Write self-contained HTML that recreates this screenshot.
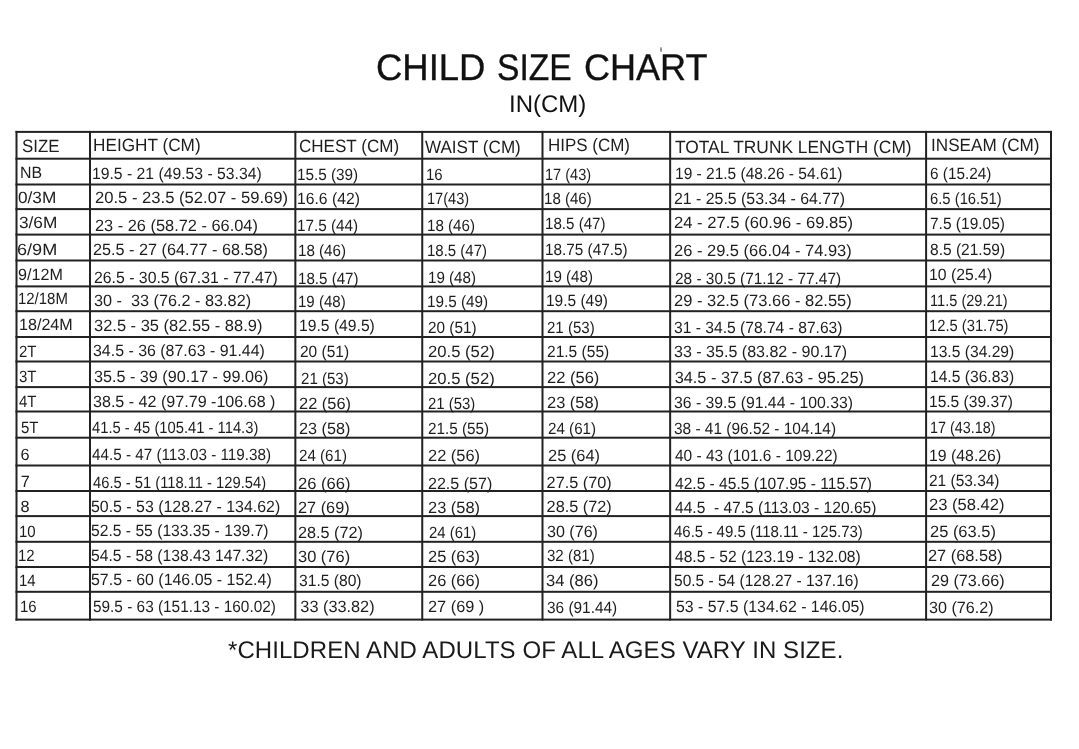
<!DOCTYPE html>
<html><head><meta charset="utf-8"><title>Child Size Chart</title>
<style>
html,body{margin:0;padding:0;background:#fff;}
body{width:1079px;height:749px;position:relative;overflow:hidden;font-family:"Liberation Sans",Arial,sans-serif;color:#1e1e1e;}
.l{position:absolute;background:#222;}
.t{position:absolute;white-space:pre;line-height:1;transform-origin:0 100%;text-rendering:geometricPrecision;}
#w{position:absolute;left:0;top:0;width:1079px;height:749px;will-change:transform;}
.d{font-size:16.3px;}
.h{font-size:17.8px;}
</style></head><body><div id="w">

<div class="t" style="left:376.21px;top:49.40px;font-size:37px;transform:scaleX(0.9852);color:#111;-webkit-text-stroke:0.35px #111;">CHILD</div>
<div class="t" style="left:497.09px;top:49.40px;font-size:37px;transform:scaleX(0.9086);color:#111;-webkit-text-stroke:0.35px #111;">SIZE</div>
<div class="t" style="left:584.13px;top:49.40px;font-size:37px;transform:scaleX(0.9739);color:#111;-webkit-text-stroke:0.35px #111;">CHART</div>
<div style="position:absolute;left:660.2px;top:47.3px;width:2.2px;height:4.4px;border-radius:50%;background:#7d6e60;opacity:.8"></div>
<div class="t" style="left:509.00px;top:92.60px;font-size:24px;color:#111;">IN(CM)</div>
<div class="t" style="left:228.00px;top:639.40px;font-size:24px;color:#1a1a1a;letter-spacing:0.07px;">*CHILDREN AND ADULTS OF ALL AGES VARY IN SIZE.</div>
<svg style="position:absolute;left:0;top:0" width="1079" height="749" viewBox="0 0 1079 749"><g fill="#222"><rect x="15.50" y="130.90" width="2.00" height="489.70"/><rect x="89.00" y="130.90" width="2.00" height="489.70"/><rect x="294.35" y="130.90" width="2.00" height="489.70"/><rect x="421.25" y="130.90" width="2.00" height="489.70"/><rect x="541.50" y="130.90" width="2.00" height="489.70"/><rect x="669.15" y="130.90" width="2.00" height="489.70"/><rect x="925.10" y="130.90" width="2.00" height="489.70"/><rect x="1050.00" y="130.90" width="2.00" height="489.70"/><rect x="15.50" y="130.90" width="1036.50" height="2.00"/><rect x="15.50" y="157.70" width="1036.50" height="2.00"/><rect x="15.50" y="183.50" width="1036.50" height="2.00"/><rect x="15.50" y="208.10" width="1036.50" height="2.00"/><rect x="15.50" y="233.60" width="1036.50" height="2.00"/><rect x="15.50" y="259.50" width="1036.50" height="2.00"/><rect x="15.50" y="285.40" width="1036.50" height="2.00"/><rect x="15.50" y="310.20" width="1036.50" height="2.00"/><rect x="15.50" y="336.00" width="1036.50" height="2.00"/><rect x="15.50" y="360.50" width="1036.50" height="2.00"/><rect x="15.50" y="386.10" width="1036.50" height="2.00"/><rect x="15.50" y="410.50" width="1036.50" height="2.00"/><rect x="15.50" y="436.70" width="1036.50" height="2.00"/><rect x="15.50" y="464.50" width="1036.50" height="2.00"/><rect x="15.50" y="490.00" width="1036.50" height="2.00"/><rect x="15.50" y="515.10" width="1036.50" height="2.00"/><rect x="15.50" y="540.80" width="1036.50" height="2.00"/><rect x="15.50" y="566.00" width="1036.50" height="2.00"/><rect x="15.50" y="590.80" width="1036.50" height="2.00"/><rect x="15.50" y="618.60" width="1036.50" height="2.00"/></g></svg>
<div class="t" style="left:22.22px;top:137.90px;font-size:17.8px;transform:scaleX(0.9475);">SIZE</div>
<div class="t" style="left:92.77px;top:137.40px;font-size:17.8px;transform:scaleX(0.9672);">HEIGHT (CM)</div>
<div class="t" style="left:298.81px;top:138.20px;font-size:17.8px;transform:scaleX(0.9587);">CHEST (CM)</div>
<div class="t" style="left:425.05px;top:138.70px;font-size:17.8px;transform:scaleX(0.9603);">WAIST (CM)</div>
<div class="t" style="left:547.50px;top:137.40px;font-size:17.8px;transform:scaleX(0.9542);">HIPS (CM)</div>
<div class="t" style="left:675.11px;top:139.40px;font-size:17.8px;transform:scaleX(0.9763);">TOTAL TRUNK LENGTH (CM)</div>
<div class="t" style="left:931.02px;top:137.40px;font-size:17.8px;transform:scaleX(0.9632);">INSEAM (CM)</div>
<div class="t" style="left:19.72px;top:165.20px;font-size:16.3px;transform:scaleX(0.9779);">NB</div>
<div class="t" style="left:92.36px;top:166.00px;font-size:16.3px;transform:scaleX(0.9663);">19.5 - 21 (49.53 - 53.34)</div>
<div class="t" style="left:296.97px;top:166.50px;font-size:16.3px;transform:scaleX(0.9390);">15.5 (39)</div>
<div class="t" style="left:426.02px;top:166.70px;font-size:16.3px;transform:scaleX(0.9200);">16</div>
<div class="t" style="left:544.67px;top:166.60px;font-size:16.3px;transform:scaleX(0.8945);">17 (43)</div>
<div class="t" style="left:675.23px;top:166.40px;font-size:16.3px;transform:scaleX(0.9529);">19 - 21.5 (48.26 - 54.61)</div>
<div class="t" style="left:929.63px;top:166.10px;font-size:16.3px;transform:scaleX(0.9436);">6 (15.24)</div>
<div class="t" style="left:18.25px;top:189.70px;font-size:16.3px;transform:scaleX(1.0567);">0/3M</div>
<div class="t" style="left:94.91px;top:190.00px;font-size:16.3px;transform:scaleX(1.0203);">20.5 - 23.5 (52.07 - 59.69)</div>
<div class="t" style="left:296.75px;top:191.00px;font-size:16.3px;transform:scaleX(0.9650);">16.6 (42)</div>
<div class="t" style="left:426.66px;top:191.00px;font-size:16.3px;transform:scaleX(0.8953);">17(43)</div>
<div class="t" style="left:544.42px;top:191.10px;font-size:16.3px;transform:scaleX(0.9255);">18 (46)</div>
<div class="t" style="left:674.47px;top:190.50px;font-size:16.3px;transform:scaleX(0.9746);">21 - 25.5 (53.34 - 64.77)</div>
<div class="t" style="left:929.83px;top:190.70px;font-size:16.3px;transform:scaleX(0.9094);">6.5 (16.51)</div>
<div class="t" style="left:18.53px;top:214.70px;font-size:16.3px;transform:scaleX(1.0586);">3/6M</div>
<div class="t" style="left:94.98px;top:218.20px;font-size:16.3px;transform:scaleX(1.0057);">23 - 26 (58.72 - 66.04)</div>
<div class="t" style="left:296.97px;top:217.90px;font-size:16.3px;transform:scaleX(0.9390);">17.5 (44)</div>
<div class="t" style="left:427.17px;top:218.10px;font-size:16.3px;transform:scaleX(0.9311);">18 (46)</div>
<div class="t" style="left:545.18px;top:215.70px;font-size:16.3px;transform:scaleX(0.9295);">18.5 (47)</div>
<div class="t" style="left:674.15px;top:215.30px;font-size:16.3px;transform:scaleX(1.0197);">24 - 27.5 (60.96 - 69.85)</div>
<div class="t" style="left:929.77px;top:215.70px;font-size:16.3px;transform:scaleX(0.9522);">7.5 (19.05)</div>
<div class="t" style="left:16.97px;top:242.40px;font-size:16.3px;transform:scaleX(1.1105);">6/9M</div>
<div class="t" style="left:93.27px;top:242.40px;font-size:16.3px;transform:scaleX(0.9967);">25.5 - 27 (64.77 - 68.58)</div>
<div class="t" style="left:297.65px;top:243.20px;font-size:16.3px;transform:scaleX(0.9311);">18 (46)</div>
<div class="t" style="left:427.36px;top:243.20px;font-size:16.3px;transform:scaleX(0.9204);">18.5 (47)</div>
<div class="t" style="left:545.11px;top:242.40px;font-size:16.3px;transform:scaleX(0.9400);">18.75 (47.5)</div>
<div class="t" style="left:674.20px;top:243.20px;font-size:16.3px;transform:scaleX(1.0120);">26 - 29.5 (66.04 - 74.93)</div>
<div class="t" style="left:930.10px;top:242.40px;font-size:16.3px;transform:scaleX(0.9533);">8.5 (21.59)</div>
<div class="t" style="left:18.44px;top:267.20px;font-size:16.3px;transform:scaleX(0.9904);">9/12M</div>
<div class="t" style="left:94.15px;top:270.00px;font-size:16.3px;transform:scaleX(0.9714);">26.5 - 30.5 (67.31 - 77.47)</div>
<div class="t" style="left:297.67px;top:270.70px;font-size:16.3px;transform:scaleX(0.9292);">18.5 (47)</div>
<div class="t" style="left:428.13px;top:270.00px;font-size:16.3px;transform:scaleX(0.9311);">19 (48)</div>
<div class="t" style="left:544.55px;top:269.10px;font-size:16.3px;transform:scaleX(0.9311);">19 (48)</div>
<div class="t" style="left:674.50px;top:270.90px;font-size:16.3px;transform:scaleX(0.9460);">28 - 30.5 (71.12 - 77.47)</div>
<div class="t" style="left:928.97px;top:267.00px;font-size:16.3px;transform:scaleX(0.9691);">10 (25.4)</div>
<div class="t" style="left:18.39px;top:291.10px;font-size:16.3px;transform:scaleX(0.9178);">12/18M</div>
<div class="t" style="left:93.67px;top:293.00px;font-size:16.3px;transform:scaleX(0.9975);">30 -  33 (76.2 - 83.82)</div>
<div class="t" style="left:298.44px;top:293.90px;font-size:16.3px;transform:scaleX(0.9243);">19 (48)</div>
<div class="t" style="left:427.45px;top:293.90px;font-size:16.3px;transform:scaleX(0.9390);">19.5 (49)</div>
<div class="t" style="left:546.11px;top:293.40px;font-size:16.3px;transform:scaleX(0.9516);">19.5 (49)</div>
<div class="t" style="left:674.20px;top:293.30px;font-size:16.3px;transform:scaleX(1.0120);">29 - 32.5 (73.66 - 82.55)</div>
<div class="t" style="left:930.31px;top:293.40px;font-size:16.3px;transform:scaleX(0.8964);">11.5 (29.21)</div>
<div class="t" style="left:18.70px;top:317.10px;font-size:16.3px;transform:scaleX(0.9895);">18/24M</div>
<div class="t" style="left:93.84px;top:318.30px;font-size:16.3px;transform:scaleX(1.0111);">32.5 - 35 (82.55 - 88.9)</div>
<div class="t" style="left:298.93px;top:318.40px;font-size:16.3px;transform:scaleX(0.9632);">19.5 (49.5)</div>
<div class="t" style="left:427.94px;top:320.30px;font-size:16.3px;transform:scaleX(0.9404);">20 (51)</div>
<div class="t" style="left:547.02px;top:320.10px;font-size:16.3px;transform:scaleX(0.9246);">21 (53)</div>
<div class="t" style="left:674.17px;top:320.30px;font-size:16.3px;transform:scaleX(0.9596);">31 - 34.5 (78.74 - 87.63)</div>
<div class="t" style="left:929.48px;top:318.00px;font-size:16.3px;transform:scaleX(0.9058);">12.5 (31.75)</div>
<div class="t" style="left:18.97px;top:343.60px;font-size:16.3px;transform:scaleX(0.9200);">2T</div>
<div class="t" style="left:93.08px;top:343.40px;font-size:16.3px;transform:scaleX(0.9786);">34.5 - 36 (87.63 - 91.44)</div>
<div class="t" style="left:300.49px;top:344.20px;font-size:16.3px;transform:scaleX(0.9516);">20 (51)</div>
<div class="t" style="left:427.52px;top:344.20px;font-size:16.3px;transform:scaleX(1.0238);">20.5 (52)</div>
<div class="t" style="left:546.86px;top:344.10px;font-size:16.3px;transform:scaleX(0.9546);">21.5 (55)</div>
<div class="t" style="left:674.00px;top:344.20px;font-size:16.3px;transform:scaleX(0.9856);">33 - 35.5 (83.82 - 90.17)</div>
<div class="t" style="left:929.80px;top:344.10px;font-size:16.3px;transform:scaleX(0.9593);">13.5 (34.29)</div>
<div class="t" style="left:18.78px;top:369.00px;font-size:16.3px;transform:scaleX(0.9200);">3T</div>
<div class="t" style="left:93.73px;top:369.30px;font-size:16.3px;transform:scaleX(0.9927);">35.5 - 39 (90.17 - 99.06)</div>
<div class="t" style="left:300.63px;top:370.60px;font-size:16.3px;transform:scaleX(0.9251);">21 (53)</div>
<div class="t" style="left:427.52px;top:370.60px;font-size:16.3px;transform:scaleX(1.0238);">20.5 (52)</div>
<div class="t" style="left:546.57px;top:369.70px;font-size:16.3px;transform:scaleX(1.0151);">22 (56)</div>
<div class="t" style="left:674.73px;top:369.70px;font-size:16.3px;">34.5 - 37.5 (87.63 - 95.25)</div>
<div class="t" style="left:929.80px;top:369.30px;font-size:16.3px;transform:scaleX(0.9593);">14.5 (36.83)</div>
<div class="t" style="left:19.44px;top:394.20px;font-size:16.3px;transform:scaleX(0.9200);">4T</div>
<div class="t" style="left:92.51px;top:394.00px;font-size:16.3px;transform:scaleX(0.9882);">38.5 - 42 (97.79 -106.68 )</div>
<div class="t" style="left:298.60px;top:395.60px;font-size:16.3px;transform:scaleX(1.0079);">22 (56)</div>
<div class="t" style="left:428.05px;top:395.60px;font-size:16.3px;transform:scaleX(0.9159);">21 (53)</div>
<div class="t" style="left:546.60px;top:394.90px;font-size:16.3px;transform:scaleX(1.0079);">23 (58)</div>
<div class="t" style="left:674.10px;top:394.80px;font-size:16.3px;transform:scaleX(0.9691);">36 - 39.5 (91.44 - 100.33)</div>
<div class="t" style="left:929.07px;top:394.30px;font-size:16.3px;transform:scaleX(0.9551);">15.5 (39.37)</div>
<div class="t" style="left:21.01px;top:420.10px;font-size:16.3px;transform:scaleX(0.9200);">5T</div>
<div class="t" style="left:92.08px;top:419.70px;font-size:16.3px;transform:scaleX(0.9068);">41.5 - 45 (105.41 - 114.3)</div>
<div class="t" style="left:298.68px;top:421.30px;font-size:16.3px;transform:scaleX(0.9944);">23 (58)</div>
<div class="t" style="left:427.93px;top:421.30px;font-size:16.3px;transform:scaleX(0.9380);">21.5 (55)</div>
<div class="t" style="left:547.73px;top:420.60px;font-size:16.3px;transform:scaleX(0.9313);">24 (61)</div>
<div class="t" style="left:674.25px;top:421.30px;font-size:16.3px;transform:scaleX(0.9473);">38 - 41 (96.52 - 104.14)</div>
<div class="t" style="left:930.45px;top:419.90px;font-size:16.3px;transform:scaleX(0.8815);">17 (43.18)</div>
<div class="t" style="left:20.48px;top:446.60px;font-size:16.3px;">6</div>
<div class="t" style="left:91.99px;top:447.30px;font-size:16.3px;transform:scaleX(0.9361);">44.5 - 47 (113.03 - 119.38)</div>
<div class="t" style="left:299.09px;top:448.00px;font-size:16.3px;transform:scaleX(0.9302);">24 (61)</div>
<div class="t" style="left:427.60px;top:448.00px;font-size:16.3px;transform:scaleX(1.0079);">22 (56)</div>
<div class="t" style="left:548.11px;top:447.80px;font-size:16.3px;transform:scaleX(1.0092);">25 (64)</div>
<div class="t" style="left:675.09px;top:448.30px;font-size:16.3px;transform:scaleX(0.9514);">40 - 43 (101.6 - 109.22)</div>
<div class="t" style="left:928.97px;top:447.80px;font-size:16.3px;transform:scaleX(0.9725);">19 (48.26)</div>
<div class="t" style="left:20.87px;top:473.90px;font-size:16.3px;">7</div>
<div class="t" style="left:92.83px;top:474.60px;font-size:16.3px;transform:scaleX(0.9047);">46.5 - 51 (118.11 - 129.54)</div>
<div class="t" style="left:297.93px;top:475.50px;font-size:16.3px;transform:scaleX(1.0185);">26 (66)</div>
<div class="t" style="left:427.70px;top:475.50px;font-size:16.3px;transform:scaleX(0.9857);">22.5 (57)</div>
<div class="t" style="left:546.59px;top:475.10px;font-size:16.3px;">27.5 (70)</div>
<div class="t" style="left:675.09px;top:475.50px;font-size:16.3px;transform:scaleX(0.9559);">42.5 - 45.5 (107.95 - 115.57)</div>
<div class="t" style="left:929.11px;top:473.10px;font-size:16.3px;transform:scaleX(0.9501);">21 (53.34)</div>
<div class="t" style="left:20.39px;top:498.90px;font-size:16.3px;">8</div>
<div class="t" style="left:91.27px;top:498.50px;font-size:16.3px;transform:scaleX(0.9769);">50.5 - 53 (128.27 - 134.62)</div>
<div class="t" style="left:298.03px;top:500.10px;font-size:16.3px;">27 (69)</div>
<div class="t" style="left:427.60px;top:500.10px;font-size:16.3px;transform:scaleX(1.0079);">23 (58)</div>
<div class="t" style="left:546.59px;top:499.40px;font-size:16.3px;">28.5 (72)</div>
<div class="t" style="left:675.09px;top:500.10px;font-size:16.3px;transform:scaleX(0.9563);">44.5  - 47.5 (113.03 - 120.65)</div>
<div class="t" style="left:928.79px;top:497.40px;font-size:16.3px;transform:scaleX(1.0177);">23 (58.42)</div>
<div class="t" style="left:19.02px;top:523.90px;font-size:16.3px;transform:scaleX(0.9200);">10</div>
<div class="t" style="left:90.67px;top:522.60px;font-size:16.3px;transform:scaleX(0.9618);">52.5 - 55 (133.35 - 139.7)</div>
<div class="t" style="left:298.05px;top:525.30px;font-size:16.3px;transform:scaleX(0.9972);">28.5 (72)</div>
<div class="t" style="left:428.90px;top:525.30px;font-size:16.3px;transform:scaleX(0.9159);">24 (61)</div>
<div class="t" style="left:546.53px;top:524.20px;font-size:16.3px;transform:scaleX(0.9881);">30 (76)</div>
<div class="t" style="left:674.38px;top:524.20px;font-size:16.3px;transform:scaleX(0.9218);">46.5 - 49.5 (118.11 - 125.73)</div>
<div class="t" style="left:929.73px;top:524.20px;font-size:16.3px;transform:scaleX(1.0107);">25 (63.5)</div>
<div class="t" style="left:17.89px;top:547.90px;font-size:16.3px;transform:scaleX(0.9200);">12</div>
<div class="t" style="left:90.67px;top:548.30px;font-size:16.3px;transform:scaleX(0.9642);">54.5 - 58 (138.43 147.32)</div>
<div class="t" style="left:297.64px;top:549.00px;font-size:16.3px;transform:scaleX(1.0106);">30 (76)</div>
<div class="t" style="left:427.60px;top:549.00px;font-size:16.3px;transform:scaleX(1.0079);">25 (63)</div>
<div class="t" style="left:546.97px;top:548.30px;font-size:16.3px;transform:scaleX(0.9248);">32 (81)</div>
<div class="t" style="left:675.09px;top:548.60px;font-size:16.3px;transform:scaleX(0.9589);">48.5 - 52 (123.19 - 132.08)</div>
<div class="t" style="left:928.44px;top:548.30px;font-size:16.3px;transform:scaleX(1.0045);">27 (68.58)</div>
<div class="t" style="left:18.83px;top:572.60px;font-size:16.3px;transform:scaleX(0.9200);">14</div>
<div class="t" style="left:90.66px;top:572.30px;font-size:16.3px;transform:scaleX(0.9787);">57.5 - 60 (146.05 - 152.4)</div>
<div class="t" style="left:298.55px;top:573.00px;font-size:16.3px;transform:scaleX(0.9601);">31.5 (80)</div>
<div class="t" style="left:427.60px;top:573.00px;font-size:16.3px;transform:scaleX(1.0079);">26 (66)</div>
<div class="t" style="left:545.67px;top:573.10px;font-size:16.3px;transform:scaleX(1.0159);">34 (86)</div>
<div class="t" style="left:674.04px;top:573.40px;font-size:16.3px;transform:scaleX(0.9528);">50.5 - 54 (128.27 - 137.16)</div>
<div class="t" style="left:931.20px;top:573.10px;font-size:16.3px;transform:scaleX(0.9930);">29 (73.66)</div>
<div class="t" style="left:19.56px;top:598.80px;font-size:16.3px;transform:scaleX(0.9200);">16</div>
<div class="t" style="left:92.50px;top:598.90px;font-size:16.3px;transform:scaleX(0.9442);">59.5 - 63 (151.13 - 160.02)</div>
<div class="t" style="left:300.34px;top:599.20px;font-size:16.3px;">33 (33.82)</div>
<div class="t" style="left:428.09px;top:599.20px;font-size:16.3px;transform:scaleX(1.0026);">27 (69 )</div>
<div class="t" style="left:546.84px;top:599.70px;font-size:16.3px;transform:scaleX(0.9450);">36 (91.44)</div>
<div class="t" style="left:675.50px;top:599.20px;font-size:16.3px;transform:scaleX(0.9736);">53 - 57.5 (134.62 - 146.05)</div>
<div class="t" style="left:929.41px;top:599.70px;font-size:16.3px;transform:scaleX(0.9907);">30 (76.2)</div>
</div></body></html>
